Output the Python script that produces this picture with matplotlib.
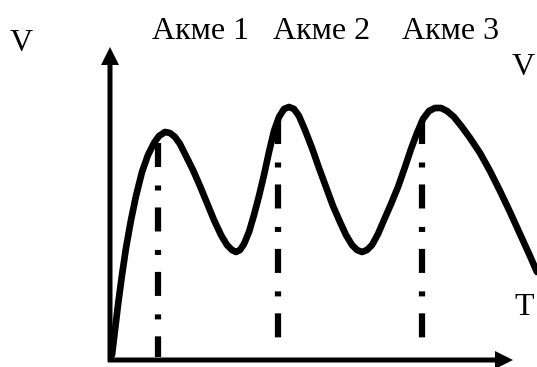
import matplotlib
matplotlib.use("Agg")
import matplotlib.pyplot as plt

plt.rcParams['font.family'] = ['Liberation Serif', 'DejaVu Serif']
plt.rcParams['lines.scale_dashes'] = False

# Rate of development V over time T (schematic, arbitrary units)
T = [2, 5, 8, 12, 16, 21, 26, 32, 38, 44, 49, 55, 60, 65, 70,
     76, 83, 90, 97, 104, 111, 117, 122, 126, 130, 134,
     139, 144, 149, 154, 159, 164, 169, 174, 179, 184, 189,
     195, 202, 209, 216, 223, 230, 236, 242, 247, 252, 257, 262,
     268, 274, 281, 288, 295, 301, 307, 313, 319, 325, 331, 337, 344,
     352, 360, 370, 380, 390, 400, 410, 420, 427]
V = [5, 30, 55, 85, 112, 140, 164, 188, 205, 217, 224, 228, 227, 223, 216,
     204, 190, 174, 157, 140, 125, 115, 110, 108, 110, 116,
     128, 145, 164, 185, 208, 229, 243, 251, 253, 251, 244,
     230, 212, 192, 173, 154, 138, 125, 115, 110, 108, 110, 115,
     126, 140, 156, 173, 193, 211, 227, 241, 249, 252, 252, 249, 243,
     233, 222, 207, 189, 169, 148, 126, 104, 88]

# Acme markers: time of each peak and vertical extent of the marker line
acme_T = [48, 168, 312]
acme_top = [217, 240, 240]
acme_bottom = [3, 19, 18]
acme_labels = ['Акме 1', 'Акме 2', 'Акме 3']

fig = plt.figure(figsize=(5.37, 3.67), dpi=100)
ax = fig.add_axes([0, 0, 1, 1])
ax.set_xlim(-110, 427)
ax.set_ylim(-7, 360)
ax.axis('off')

# axes with arrow heads
ax.arrow(0, -2, 0, 315, width=5, head_width=18, head_length=18,
         length_includes_head=True, color='black', lw=0)
ax.arrow(-2, 0, 405, 0, width=5, head_width=18, head_length=18,
         length_includes_head=True, color='black', lw=0)

ax.plot(T, V, color='black', lw=4.8, solid_capstyle='round', solid_joinstyle='round')

for t, top, bot in zip(acme_T, acme_top, acme_bottom):
    ax.plot([t, t], [top, bot], color='black', lw=4.5,
            linestyle=(0, (17.3, 13.3, 3.6, 12.2)), dash_capstyle='butt')

label_T = [90.5, 211.5, 341]
for lt, lab in zip(label_T, acme_labels):
    ax.text(lt, 321, lab, ha='center', va='baseline', fontsize=23)

ax.text(-89, 309, 'V', ha='center', va='baseline', fontsize=23)
ax.text(413, 285, 'V', ha='center', va='baseline', fontsize=23)
ax.text(414, 45, 'T', ha='center', va='baseline', fontsize=23)

fig.savefig('out.png', dpi=100)
